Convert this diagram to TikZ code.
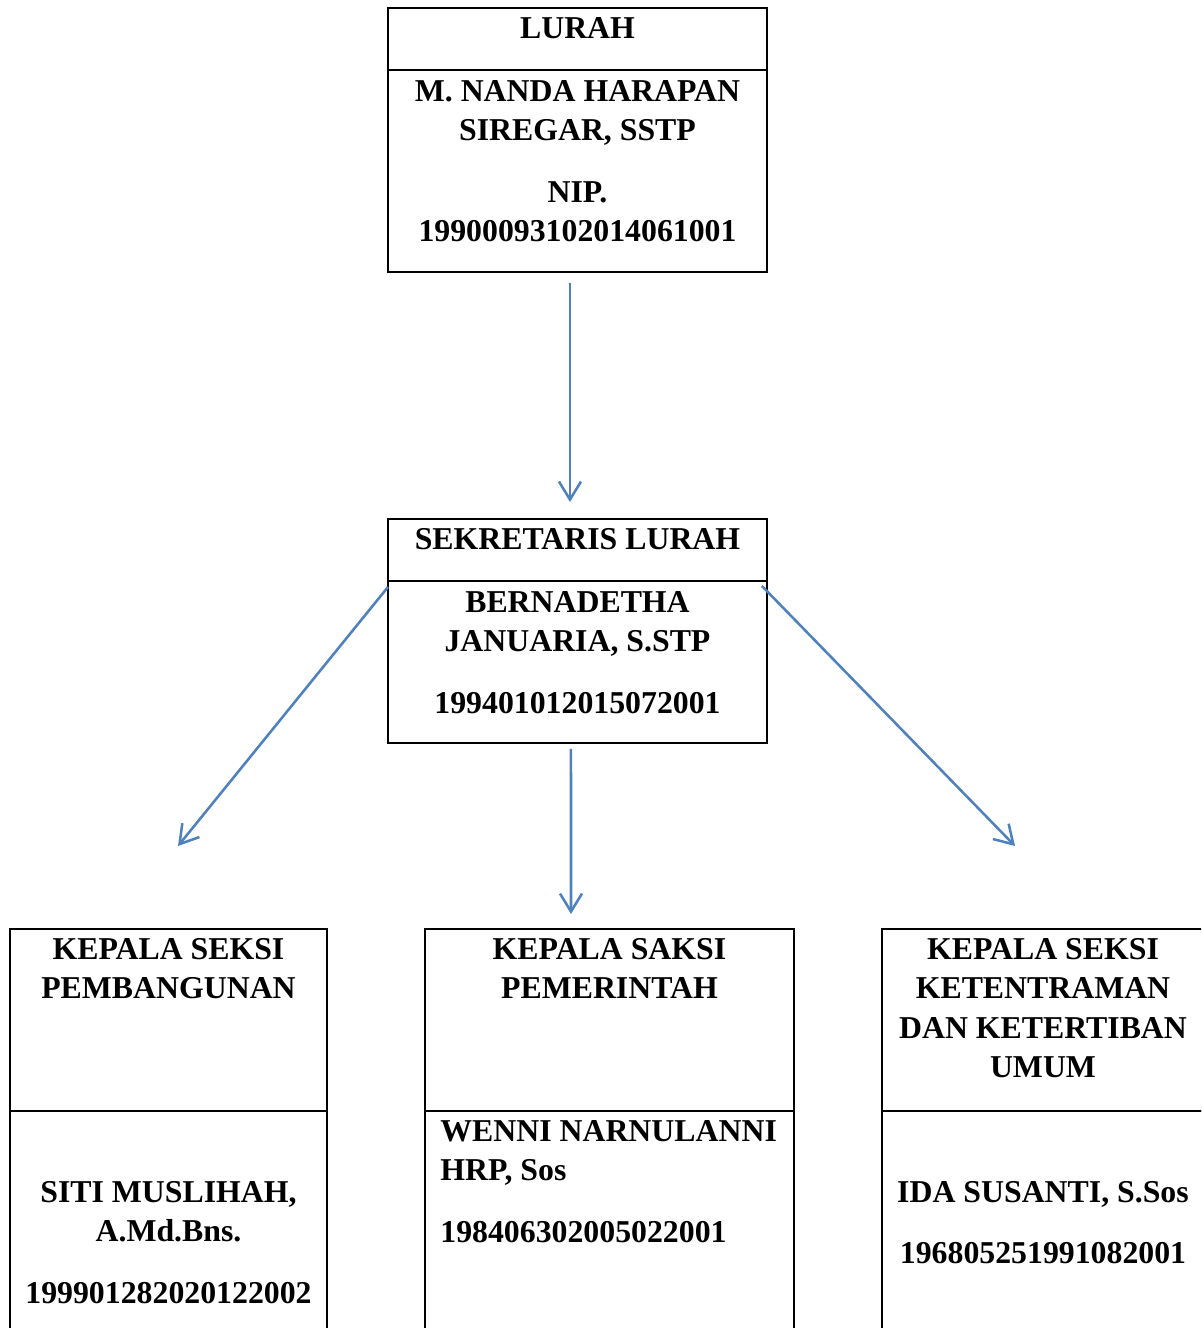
\documentclass[tikz,border=0pt]{standalone}
\usepackage{fontspec}
\setmainfont{Liberation Serif}
\usetikzlibrary{positioning,arrows.meta}
\definecolor{arrowblue}{RGB}{79,129,189}
\tikzstyle{hdbox}=[rectangle, draw=black, line width=1.2pt, anchor=north west, inner sep=0pt, outer sep=0pt]
\tikzstyle{txt}=[inner sep=0pt, align=center, anchor=north, font=\fontsize{18.1pt}{22.4pt}\selectfont\bfseries]
\tikzstyle{arrow2}=[arrowblue, line width=1.45pt, -{Straight Barb[length=0.36cm,width=0.44cm]}]

\begin{document}
\begin{tikzpicture}[x=0.02cm, y=-0.02cm, node distance=0pt]
\clip (0,0) rectangle (1201,1328);
% lurah
\node (lurahH) [hdbox, minimum width=7.58cm, minimum height=1.24cm] at (388,8) {};
\node (lurahB) [hdbox, minimum width=7.58cm, minimum height=4.04cm, below=of lurahH] {};
\node (lurahT) [txt] at (577.5,17) {LURAH};
\node (lurahN) [txt] at (577.5,80) {M. NANDA HARAPAN\\SIREGAR, SSTP\\[12.5pt]NIP.\\19900093102014061001};
% sekretaris
\node (sekH) [hdbox, minimum width=7.58cm, minimum height=1.24cm] at (388,519) {};
\node (sekB) [hdbox, minimum width=7.58cm, minimum height=3.24cm, below=of sekH] {};
\node (sekT) [txt] at (577.5,528) {SEKRETARIS LURAH};
\node (sekN) [txt] at (577.5,591) {BERNADETHA\\JANUARIA, S.STP\\[12.5pt]199401012015072001};
% seksi
\node (pbgH) [hdbox, minimum width=6.34cm, minimum height=3.64cm] at (10,929) {};
\node (pbgB) [hdbox, minimum width=6.34cm, minimum height=4.78cm, below=of pbgH] {};
\node (pemH) [hdbox, minimum width=7.38cm, minimum height=3.64cm] at (425,929) {};
\node (pemB) [hdbox, minimum width=7.38cm, minimum height=4.78cm, below=of pemH] {};
\node (ktbH) [hdbox, minimum width=6.48cm, minimum height=3.64cm] at (882,929) {};
\node (ktbB) [hdbox, minimum width=6.48cm, minimum height=4.78cm, below=of ktbH] {};
\node (pbgT) [txt] at (168.5,938) {KEPALA SEKSI\\PEMBANGUNAN};
\node (pbgN) [txt] at (168.5,1181) {SITI MUSLIHAH,\\A.Md.Bns.\\[12.5pt]199901282020122002};
\node (pemT) [txt] at (609.5,938) {KEPALA SAKSI\\PEMERINTAH};
\node (pemN) [txt, align=left, anchor=north west] at (440,1120) {WENNI NARNULANNI\\HRP, Sos\\[12.5pt]198406302005022001};
\node (ktbT) [txt] at (1043,938) {KEPALA SEKSI\\KETENTRAMAN\\DAN KETERTIBAN\\UMUM};
\node (ktbN) [txt] at (1043,1181) {IDA SUSANTI, S.Sos\\[12.5pt]196805251991082001};
% arrows
\coordinate (tipL) at (178,846);
\coordinate (tipM) at (571,914);
\coordinate (tipR) at (1015,846);
\draw[arrow2] ([shift={(-7.5,11)}]lurahB.south) -- ([shift={(-7.5,-17)}]sekH.north);
\draw[arrow2] ([shift={(0,6)}]sekB.north west) -- (tipL);
\draw[arrow2] ([shift={(-6.5,6)}]sekB.south) -- (tipM);
\draw[arrow2] ([shift={(-5,5)}]sekB.north east) -- (tipR);
\end{tikzpicture}
\end{document}
